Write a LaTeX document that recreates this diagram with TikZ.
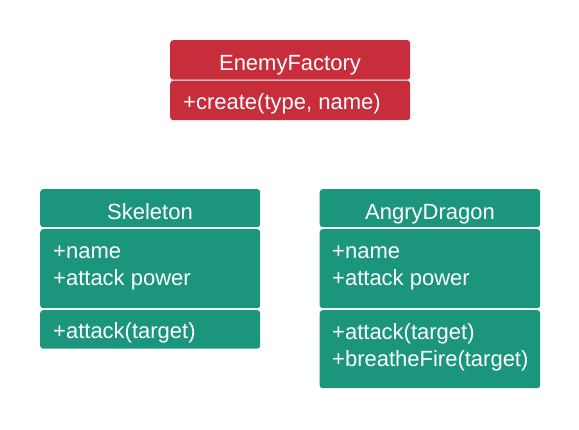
\documentclass[tikz,border=0pt]{standalone}
\usepackage{fontspec}
\setmainfont{Liberation Sans}
\definecolor{redbox}{RGB}{200,45,60}
\definecolor{tealbox}{RGB}{27,150,124}
\begin{document}
\begin{tikzpicture}[x=1pt,y=-1pt,
  part/.style={rectangle, rounded corners=3pt, inner sep=0pt, anchor=north west, draw=none},
  redpart/.style={part, fill=redbox},
  tealpart/.style={part, fill=tealbox},
  txt/.style={text=white, inner sep=0pt, font=\fontsize{22}{27}\selectfont},
  lefttxt/.style={txt, anchor=base west},
  midtxt/.style={txt, anchor=base}]
\useasboundingbox (0,0) rectangle (579,429);
% EnemyFactory
\node[redpart, minimum width=240pt, minimum height=39.5pt] (efh) at (170,40) {};
\node[redpart, minimum width=240pt, minimum height=39.5pt] (efb) at (170,80.5) {};
\node[midtxt] (eft) at (290,70) {EnemyFactory};
\node[lefttxt] (efm) at (183,109) {+create(type, name)};
% Skeleton
\node[tealpart, minimum width=220pt, minimum height=38pt] (skh) at (40,189) {};
\node[tealpart, minimum width=220pt, minimum height=79pt] (ska) at (40,229) {};
\node[tealpart, minimum width=220pt, minimum height=38.5pt] (skm) at (40,310) {};
\node[midtxt] (skt) at (150,219) {Skeleton};
\node[lefttxt] (ska1) at (53,258) {+name};
\node[lefttxt] (ska2) at (53,285) {+attack power};
\node[lefttxt] (skm1) at (53,338) {+attack(target)};
% AngryDragon
\node[tealpart, minimum width=220.5pt, minimum height=38pt] (adh) at (319.5,189) {};
\node[tealpart, minimum width=220.5pt, minimum height=79pt] (ada) at (319.5,229) {};
\node[tealpart, minimum width=220.5pt, minimum height=78pt] (adm) at (319.5,310) {};
\node[midtxt] (adt) at (430,219) {AngryDragon};
\node[lefttxt] (ada1) at (332,258) {+name};
\node[lefttxt] (ada2) at (332,285) {+attack power};
\node[lefttxt] (adm1) at (332,339) {+attack(target)};
\node[lefttxt] (adm2) at (332,366) {+breatheFire(target)};
\end{tikzpicture}
\end{document}
